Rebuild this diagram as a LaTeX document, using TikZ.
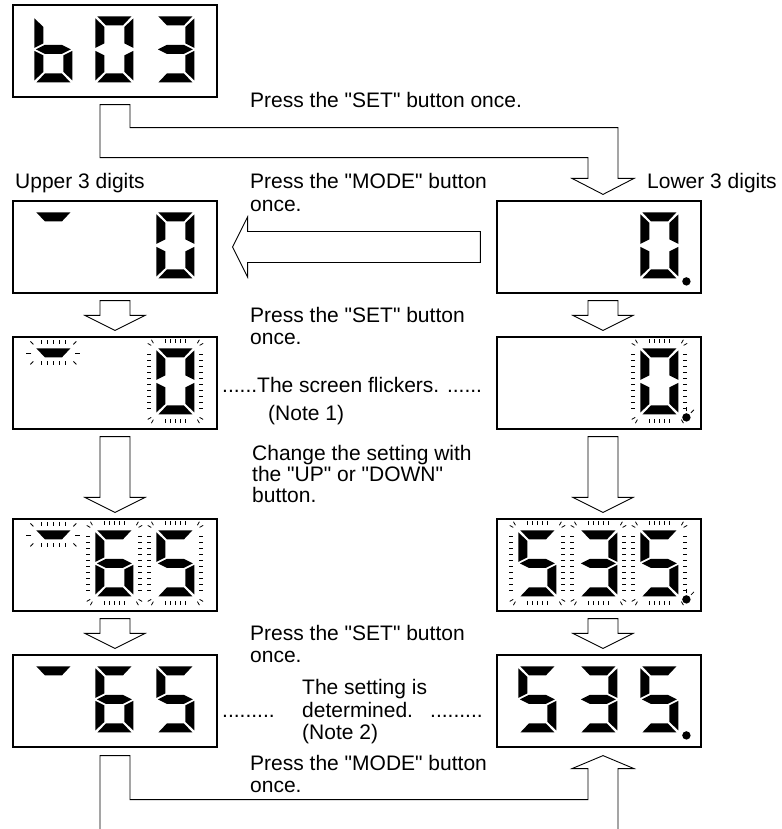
\documentclass[tikz,border=0pt]{standalone}
\usepackage{fontspec}
\setmainfont{Liberation Sans}[Ligatures=TeXOff]
\usetikzlibrary{calc}

% seven-segment pieces, digit is 38 x 66 (y downwards)
\newcommand{\sega}{\fill (2,0) -- (36,0) -- (27.5,9) -- (10.5,9) -- cycle;}
\newcommand{\segb}{\fill (38,2) -- (38,31.5) -- (29,27) -- (29,10.5) -- cycle;}
\newcommand{\segc}{\fill (38,34.5) -- (38,64) -- (29,55.5) -- (29,39) -- cycle;}
\newcommand{\segd}{\fill (2,66) -- (36,66) -- (27.5,57) -- (10.5,57) -- cycle;}
\newcommand{\sege}{\fill (0,34.5) -- (9,39) -- (9,55.5) -- (0,64) -- cycle;}
\newcommand{\segf}{\fill (0,2) -- (9,10.5) -- (9,27) -- (0,31.5) -- cycle;}
\newcommand{\segg}{\fill (1.5,33) -- (10.5,28.5) -- (27.5,28.5) -- (36.5,33) -- (27.5,37.5) -- (10.5,37.5) -- cycle;}

\newcommand{\digit}[3]{% digit at (#1,#2) with lit segments #3
  \begin{scope}[shift={(#1,#2)}]
    \foreach \s in {#3} {\csname seg\s\endcsname}
  \end{scope}}

\newcommand{\flick}[2]{% flicker ticks round a digit
  \begin{scope}[shift={(#1,#2)}, tick]
    \foreach \yy in {6,12,...,60} {\draw (-9,\yy) -- (-5,\yy); \draw (43,\yy) -- (47,\yy);}
    \foreach \xx in {9,14,...,29} {\draw (\xx,-9) -- (\xx,-5); \draw (\xx,71) -- (\xx,75);}
    \foreach \cx/\cy/\sx/\sy in {0/0/-1/-1, 38/0/1/-1, 0/66/-1/1, 38/66/1/1} {
      \draw ({\cx+(\sx)*5.2},{\cy+(\sy)*3}) -- ({\cx+(\sx)*8.7},{\cy+(\sy)*5});
      \draw ({\cx+(\sx)*3},{\cy+(\sy)*5.2}) -- ({\cx+(\sx)*5},{\cy+(\sy)*8.7});
    }
  \end{scope}}

\newcommand{\flickbar}[2]{% flicker ticks round the upper-digit bar
  \begin{scope}[shift={(#1,#2)}, tick]
    \foreach \xx in {7,13,...,31} {\draw (\xx,-8) -- (\xx,-4); \draw (\xx,13) -- (\xx,17);}
    \draw (-1,-4) -- (-4,-7); \draw (39,-4) -- (42,-7);
    \draw (-1,13) -- (-4,16); \draw (39,13) -- (42,16);
    \draw (-3,4.5) -- (-8,4.5); \draw (41,4.5) -- (46,4.5);
  \end{scope}}

\newcommand{\flickdot}[2]{% flicker ticks at the decimal point
  \begin{scope}[shift={(#1,#2)}, tick]
    \draw (0,-6) -- (0,-10); \draw (4.5,-4.5) -- (7.5,-7.5);
  \end{scope}}

\newcommand{\blockdown}[3]{% outline arrow from box #1 down to box #2
  \draw[blockarrow] let \p1=(#1.south), \p2=(#2.north) in
    (\x1+#3-15pt,\y1-7pt) -- (\x1+#3+15pt,\y1-7pt) -- (\x1+#3+15pt,\y2+21pt)
    -- (\x1+#3+30pt,\y2+21pt) -- (\x1+#3,\y2+6pt) -- (\x1+#3-30pt,\y2+21pt)
    -- (\x1+#3-15pt,\y2+21pt) -- cycle;}

\tikzset{
  dispbox/.style={draw, line width=1.2pt, minimum width=204pt, minimum height=92pt, inner sep=0pt},
  blockarrow/.style={draw, fill=white, line width=0.9pt, line join=miter},
  lbl/.style={anchor=base west, inner sep=0pt, font=\fontsize{21}{22}\selectfont},
  tick/.style={line width=0.8pt}
}

\begin{document}
\begin{tikzpicture}[x=1pt, y=-1pt]
  \useasboundingbox (0,0) rectangle (781,829);

  % Display boxes
  \node[dispbox] (top) at (115,51) {};
  \node[dispbox] (U1) at (115,247) {};
  \node[dispbox] (L1) at (599,247) {};
  \node[dispbox] (U2) at (115,383) {};
  \node[dispbox] (L2) at (599,383) {};
  \node[dispbox] (U3) at (115,565) {};
  \node[dispbox] (L3) at (599,565) {};
  \node[dispbox] (U4) at (115,701) {};
  \node[dispbox] (L4) at (599,701) {};

  % Digits: b03
  \begin{scope}[shift={(top.north west)}]
    \digit{22}{12}{f,e,d,c,g}
    \digit{83}{12}{a,b,c,d,e,f}
    \digit{144}{12}{a,b,g,c,d}
  \end{scope}

  % Upper and lower 3 digits shown
  \begin{scope}[shift={(U1.north west)}]
    \digit{22}{12}{a}
    \digit{144}{12}{a,b,c,d,e,f}
  \end{scope}
  \begin{scope}[shift={(L1.north west)}]
    \digit{144}{12}{a,b,c,d,e,f}
    \fill (190,81) circle (4.2pt);
  \end{scope}

  % Flickering
  \begin{scope}[shift={(U2.north west)}]
    \digit{22}{12}{a} \flickbar{22}{12}
    \digit{144}{12}{a,b,c,d,e,f} \flick{144}{12}
  \end{scope}
  \begin{scope}[shift={(L2.north west)}]
    \digit{144}{12}{a,b,c,d,e,f} \flick{144}{12}
    \fill (190,81) circle (4.2pt); \flickdot{190}{81}
  \end{scope}

  % Changed value, still flickering
  \begin{scope}[shift={(U3.north west)}]
    \digit{22}{12}{a} \flickbar{22}{12}
    \digit{83}{12}{a,f,g,e,d,c} \flick{83}{12}
    \digit{144}{12}{a,f,g,c,d} \flick{144}{12}
  \end{scope}
  \begin{scope}[shift={(L3.north west)}]
    \digit{22}{12}{a,f,g,c,d} \flick{22}{12}
    \digit{83}{12}{a,b,g,c,d} \flick{83}{12}
    \digit{144}{12}{a,f,g,c,d} \flick{144}{12}
    \fill (190,81) circle (4.2pt); \flickdot{190}{81}
  \end{scope}

  % Value determined
  \begin{scope}[shift={(U4.north west)}]
    \digit{22}{12}{a}
    \digit{83}{12}{a,f,g,e,d,c}
    \digit{144}{12}{a,f,g,c,d}
  \end{scope}
  \begin{scope}[shift={(L4.north west)}]
    \digit{22}{12}{a,f,g,c,d}
    \digit{83}{12}{a,b,g,c,d}
    \digit{144}{12}{a,f,g,c,d}
    \fill (190,81) circle (4.2pt);
  \end{scope}

  % Outline arrows
  \draw[blockarrow] let \p1=(top.south), \p2=(L1.north) in
    (\x1-15pt,\y1-7pt) -- (\x1-15pt,\y1-60pt) -- (\x2-11pt,\y1-60pt) -- (\x2-11pt,\y2+22pt)
    -- (\x2-27pt,\y2+22pt) -- (\x2+4pt,\y2+6pt) -- (\x2+35pt,\y2+22pt) -- (\x2+19pt,\y2+22pt)
    -- (\x2+19pt,\y1-30pt) -- (\x1+15pt,\y1-30pt) -- (\x1+15pt,\y1-7pt) -- cycle;
  \draw[blockarrow] let \p1=(L1.west), \p2=(U1.east) in
    (\x1-16pt,\y1+15.5pt) -- (\x2+30pt,\y1+15.5pt) -- (\x2+30pt,\y1+30pt) -- (\x2+15pt,\y1)
    -- (\x2+30pt,\y1-30pt) -- (\x2+30pt,\y1-15.5pt) -- (\x1-16pt,\y1-15.5pt) -- cycle;
  \blockdown{U1}{U2}{0pt}
  \blockdown{L1}{L2}{4pt}
  \blockdown{U2}{U3}{0pt}
  \blockdown{L2}{L3}{4pt}
  \blockdown{U3}{U4}{0pt}
  \blockdown{L3}{L4}{4pt}
  \draw[line width=0.9pt, line join=miter] let \p1=(U4.south), \p2=(L4.south) in
    (\x1-15pt,\y1-82pt) -- (\x1-15pt,\y1-8pt) -- (\x1+15pt,\y1-8pt) -- (\x1+15pt,\y1-52pt)
    -- (\x2-11pt,\y1-52pt) -- (\x2-11pt,\y2-21pt) -- (\x2-27pt,\y2-21pt) -- (\x2+4pt,\y2-8pt)
    -- (\x2+35pt,\y2-21pt) -- (\x2+19pt,\y2-21pt) -- (\x2+19pt,\y2-82pt);

  % Texts
  \node[lbl] (setA) at (250,108) {Press the "SET" button once.};
  \node[lbl] (upper) at (15,189) {Upper 3 digits};
  \node[lbl] (lower) at (647,189) {Lower 3 digits};
  \node[lbl] (modeA1) at (250,189) {Press the "MODE" button};
  \node[lbl] (modeA2) at (250,211) {once.};
  \node[lbl] (setB1) at (250,322) {Press the "SET" button};
  \node[lbl] (setB2) at (250,344) {once.};
  \node[lbl] (flk) at (222,392) {......The screen flickers. ......};
  \node[lbl] (note1) at (268,420) {(Note 1)};
  \node[lbl] (chg1) at (252,460) {Change the setting with};
  \node[lbl] (chg2) at (252,481) {the "UP" or "DOWN"};
  \node[lbl] (chg3) at (252,502) {button.};
  \node[lbl] (setC1) at (250,640) {Press the "SET" button};
  \node[lbl] (setC2) at (250,662) {once.};
  \node[lbl] (dotsL) at (222,717) {.........};
  \node[lbl] (det1) at (302,694) {The setting is};
  \node[lbl] (det2) at (302,717) {determined.};
  \node[lbl] (note2) at (302,739) {(Note 2)};
  \node[lbl] (dotsR) at (430,717) {.........};
  \node[lbl] (modeB1) at (250,770) {Press the "MODE" button};
  \node[lbl] (modeB2) at (250,792) {once.};

\end{tikzpicture}
\end{document}
